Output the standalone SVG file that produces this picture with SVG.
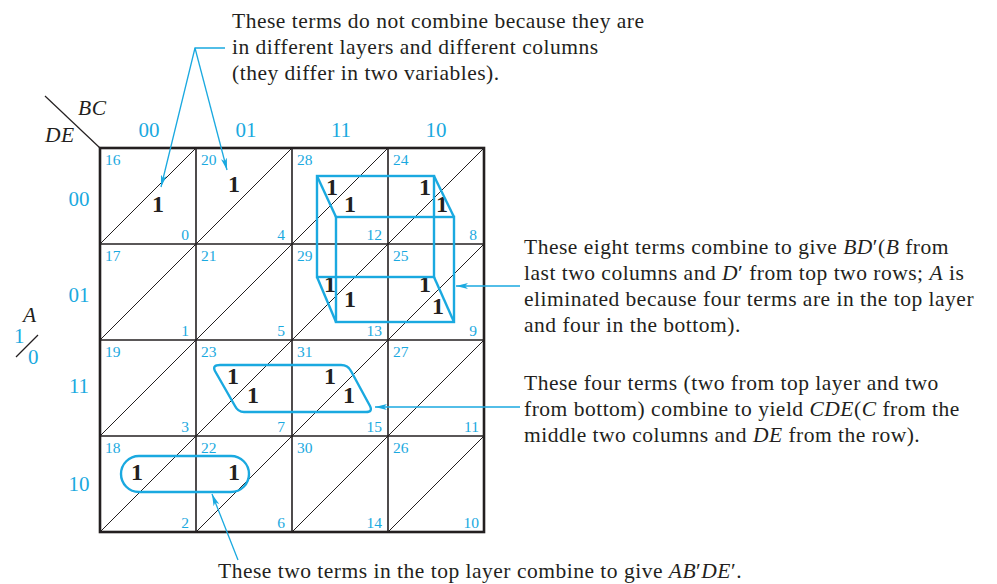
<svg xmlns="http://www.w3.org/2000/svg" width="997" height="584" viewBox="0 0 997 584">
<defs>
<style>
.g{stroke:#231f20;fill:none}
.grid{stroke-width:1.6}
.border{stroke-width:2.6}
.diag{stroke-width:1}
.n{font-family:"Liberation Serif",serif;font-size:15.5px;fill:#1aa9e0}
.hdr{font-family:"Liberation Serif",serif;font-size:21px;fill:#1aa9e0}
.one{font-family:"Liberation Serif",serif;font-size:24px;font-weight:bold;fill:#231f20;text-anchor:middle}
.t{font-family:"Liberation Serif",serif;font-size:21.5px;letter-spacing:0.5px;fill:#231f20}
.it{font-style:italic}
.c{stroke:#1aa9e0;fill:none;stroke-width:2.4}
.cl{stroke:#1aa9e0;fill:none;stroke-width:1.3}
</style>
<marker id="ah" viewBox="0 0 12 6" refX="12" refY="3" markerWidth="12" markerHeight="6" markerUnits="userSpaceOnUse" orient="auto">
<path d="M0,0 L12,3 L0,6 L3,3 Z" fill="#1aa9e0"/>
</marker>
</defs>

<g id="header">
<line class="g" x1="45" y1="96" x2="100" y2="148" stroke-width="1.2"/>
<text class="t it" x="78" y="115">BC</text>
<text class="t it" x="45" y="142">DE</text>
<text class="hdr" x="149" y="137" text-anchor="middle">00</text>
<text class="hdr" x="246" y="137" text-anchor="middle">01</text>
<text class="hdr" x="341" y="137" text-anchor="middle">11</text>
<text class="hdr" x="436" y="137" text-anchor="middle">10</text>
<text class="hdr" x="79" y="206" text-anchor="middle">00</text>
<text class="hdr" x="79" y="302" text-anchor="middle">01</text>
<text class="hdr" x="79" y="393" text-anchor="middle">11</text>
<text class="hdr" x="79" y="491" text-anchor="middle">10</text>
<text class="t it" x="23" y="322">A</text>
<text class="hdr" x="14" y="343">1</text>
<line class="g" x1="16" y1="357" x2="38" y2="335" stroke-width="1.2"/>
<text class="hdr" x="28" y="364">0</text>
</g>

<g id="map">
<g class="g diag">
<line x1="100" y1="244" x2="196" y2="148"/><line x1="196" y1="244" x2="292" y2="148"/><line x1="292" y1="244" x2="388" y2="148"/><line x1="388" y1="244" x2="484" y2="148"/>
<line x1="100" y1="340" x2="196" y2="244"/><line x1="196" y1="340" x2="292" y2="244"/><line x1="292" y1="340" x2="388" y2="244"/><line x1="388" y1="340" x2="484" y2="244"/>
<line x1="100" y1="436" x2="196" y2="340"/><line x1="196" y1="436" x2="292" y2="340"/><line x1="292" y1="436" x2="388" y2="340"/><line x1="388" y1="436" x2="484" y2="340"/>
<line x1="100" y1="532" x2="196" y2="436"/><line x1="196" y1="532" x2="292" y2="436"/><line x1="292" y1="532" x2="388" y2="436"/><line x1="388" y1="532" x2="484" y2="436"/>
</g>
<g class="g grid">
<line x1="196" y1="148" x2="196" y2="532"/><line x1="292" y1="148" x2="292" y2="532"/><line x1="388" y1="148" x2="388" y2="532"/>
<line x1="100" y1="244" x2="484" y2="244"/><line x1="100" y1="340" x2="484" y2="340"/><line x1="100" y1="436" x2="484" y2="436"/>
</g>
<rect class="g border" x="100" y="148" width="384" height="384"/>
<g class="n">
<text x="105" y="165">16</text><text x="201" y="165">20</text><text x="297" y="165">28</text><text x="393" y="165">24</text>
<text x="105" y="261">17</text><text x="201" y="261">21</text><text x="297" y="261">29</text><text x="393" y="261">25</text>
<text x="105" y="357">19</text><text x="201" y="357">23</text><text x="297" y="357">31</text><text x="393" y="357">27</text>
<text x="105" y="453">18</text><text x="201" y="453">22</text><text x="297" y="453">30</text><text x="393" y="453">26</text>
</g>
<g class="n" text-anchor="end">
<text x="189" y="240">0</text><text x="285" y="240">4</text><text x="382" y="240">12</text><text x="477" y="240">8</text>
<text x="189" y="336">1</text><text x="285" y="336">5</text><text x="382" y="336">13</text><text x="477" y="336">9</text>
<text x="189" y="432">3</text><text x="285" y="432">7</text><text x="382" y="432">15</text><text x="479" y="432">11</text>
<text x="189" y="528">2</text><text x="285" y="528">6</text><text x="382" y="528">14</text><text x="479" y="528">10</text>
</g>
<g id="ones">
<text class="one" x="158" y="212">1</text>
<text class="one" x="234" y="192">1</text>
<text class="one" x="332" y="195">1</text>
<text class="one" x="350" y="212">1</text>
<text class="one" x="425" y="195">1</text>
<text class="one" x="442" y="212">1</text>
<text class="one" x="330" y="292">1</text>
<text class="one" x="350" y="307">1</text>
<text class="one" x="425" y="292">1</text>
<text class="one" x="438" y="314">1</text>
<text class="one" x="233" y="384">1</text>
<text class="one" x="253" y="403">1</text>
<text class="one" x="330" y="384">1</text>
<text class="one" x="349" y="403">1</text>
<text class="one" x="137" y="480">1</text>
<text class="one" x="234" y="480">1</text>
</g>
</g>

<g id="cube">
<rect class="c" x="317" y="176" width="117" height="101"/>
<rect class="c" x="336" y="217" width="118" height="105"/>
<line class="c" x1="317" y1="176" x2="336" y2="217"/>
<line class="c" x1="434" y1="176" x2="454" y2="217"/>
<line class="c" x1="317" y1="277" x2="336" y2="322"/>
<line class="c" x1="434" y1="277" x2="454" y2="322"/>
</g>

<g id="group-cde">
<path class="c" d="M220,365 L341,365 Q348,365 351,371 L370,406 Q373,412 366,412 L244,412 Q238,412 235,406 L215,371 Q212,365 220,365 Z"/>
</g>

<g id="group-abde">
<rect class="c" x="121" y="456" width="128" height="36" rx="18" ry="18"/>
</g>

<g id="connectors">
<polyline class="cl" points="225,48 195,48 161,187" marker-end="url(#ah)"/>
<line class="cl" x1="195" y1="48" x2="227" y2="170" marker-end="url(#ah)"/>
<line class="cl" x1="520" y1="286" x2="456" y2="286" marker-end="url(#ah)"/>
<line class="cl" x1="520" y1="407" x2="375" y2="407" marker-end="url(#ah)"/>
<line class="cl" x1="238" y1="560" x2="212" y2="494" marker-end="url(#ah)"/>
</g>

<g id="annotations">
<text class="t" x="232" y="28">These terms do not combine because they are</text>
<text class="t" x="232" y="54">in different layers and different columns</text>
<text class="t" x="232" y="80">(they differ in two variables).</text>
<text class="t" x="524" y="254">These eight terms combine to give <tspan class="it">BD</tspan>′(<tspan class="it">B</tspan> from</text>
<text class="t" x="524" y="280">last two columns and <tspan class="it">D</tspan>′ from top two rows; <tspan class="it">A</tspan> is</text>
<text class="t" x="524" y="306">eliminated because four terms are in the top layer</text>
<text class="t" x="524" y="332">and four in the bottom).</text>
<text class="t" x="524" y="390">These four terms (two from top layer and two</text>
<text class="t" x="524" y="416">from bottom) combine to yield <tspan class="it">CDE</tspan>(<tspan class="it">C</tspan> from the</text>
<text class="t" x="524" y="442">middle two columns and <tspan class="it">DE</tspan> from the row).</text>
<text class="t" x="218" y="578">These two terms in the top layer combine to give <tspan class="it">AB</tspan>′<tspan class="it">DE</tspan>′.</text>
</g>
</svg>
